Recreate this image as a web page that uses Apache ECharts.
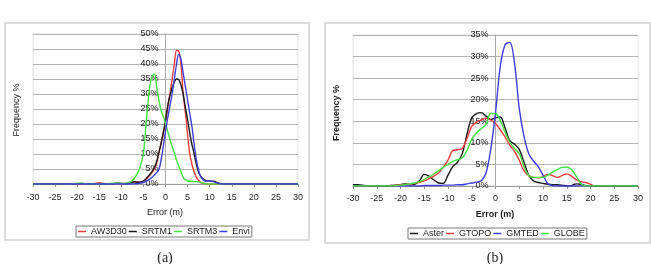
<!DOCTYPE html>
<html>
<head>
<meta charset="utf-8">
<script src="https://cdn.jsdelivr.net/npm/echarts@6/dist/echarts.min.js"></script>
<style>
  html, body { margin: 0; padding: 0; background: #fff; }
  #chart { width: 651px; height: 264px; }
</style>
</head>
<body>
<div id="chart"></div>
<script>
// panel (a): finer steps in the middle where the peaks are
var leftX = [-30,-29,-28,-27,-26,-25,-24,-23,-22,-21,-20,-19,-18,-17,-16,-15,-14,-13,-12,-11,-10,-9,
  -8,-7.5,-7,-6.5,-6,-5.5,-5,-4.5,-4,-3.5,-3,-2.5,-2,-1.5,-1,-0.5,0,0.5,1,1.5,2,2.5,3,3.5,4,4.5,5,5.5,6,6.5,7,7.5,8,
  9,10,11,12,13,14,15,16,17,18,19,20,21,22,23,24,25,26,27,28,29,30];

var aw3d30 = [0,0,0,0,0,0,0,0,0,0,0,0,0,0,0.2,0.4,0.2,0.1,0.1,0.1,0.1,0.2,
  0.4,0.7,0.8,0.7,0.6,0.7,1.0,1.5,2.2,3.0,4.0,5.0,7.0,10.5,13.5,17,21,25.5,30,35,40,44.5,44.3,40,30,24,16.5,10,6.5,4,2.2,1.2,0.5,
  0.1,0,0,0,0,0,0,0,0,0,0,0,0,0,0,0,0,0,0,0,0,0];
var srtm1 = [0,0,0,0,0,0,0,0,0,0,0.1,0.2,0.1,0,0,0,0,0,0.1,0.3,0.2,0.1,
  0.3,0.6,0.7,0.6,0.6,0.7,1.0,1.6,2.4,3.3,4.3,5.5,7.5,10.5,13.5,17,21,26,29.5,32,34,35,34.8,33,30,25.5,21.5,17,13,10,6.5,4,2.5,
  1.2,1,0.9,0.3,0,0,0,0,0,0,0,0,0,0,0,0,0,0,0,0,0,0];
var srtm3 = [0,0,0,0,0,0,0,0,0,0.1,0.3,0.3,0.1,0,0,0,0,0.1,0.2,0.3,0.2,0.3,
  0.6,1.2,2,3.2,4.7,7,10,18.3,26.5,33,35.8,36.7,32.5,28,24.5,22.5,20.3,17.5,15,12.5,10.5,8,6,4.2,2.2,1.4,1.0,0.9,0.9,0.8,0.8,0.7,0.5,
  0.1,0,0,0,0,0,0,0,0,0,0,0,0,0,0,0,0,0,0,0,0,0];
var envi = [0,0,0,0,0,0,0,0,0,0,0,0,0,0,0,0,0,0,0,0,0,0,
  0,0,0.1,0.1,0.2,0.3,0.5,0.8,1.2,1.7,2.3,3,3.8,4.8,8,12.5,17.5,22,26,30,35,40,43.3,41.5,37,32.5,28,23.5,19,13,8,4.5,2.5,
  1.0,1.0,0.7,0.2,0,0,0,0,0,0,0,0,0,0,0,0,0,0,0,0,0,0];

// panel (b)
var rightX = [-30,-29,-28,-27,-26,-25,-24,-23,-22,-21,-20,-19,-18,-17,-16,-15,-14,-13,-12,-11,
  -10,-9,-8,-7,-6,-5,-4,-3,-2,-1,0,1,2,3,4,5,6,7,8,9,10,11,12,13,14,15,16,17,18,19,20,
  21,22,23,24,25,26,27,28,29,30];

var aster = [0.3,0.3,0.2,0,0,0,0,0,0.1,0.2,
  0.3,0.5,0.3,0.4,1.2,2.7,2.3,1.4,0.7,0.6,
  2.5,4.5,5.5,7.5,12,15.8,16.8,17,16.2,15.4,
  15.8,16,13.5,10.5,9.7,8.5,5.5,2.5,1.2,0.8,
  0.6,0.4,0.3,0.3,0.2,0,0.1,0.5,0.4,0.1,
  0,0,0,0,0,0,0,0,0,0,0];
var gtopo = [0,0,0,0,0,0,0,0,0.1,0.2,
  0.3,0.3,0.4,0.6,0.9,1.2,1.7,2.3,3.0,4.3,
  6,8.2,8.4,8.7,11,13.8,14.8,15.3,15.7,15.3,
  14.5,13,11.4,9.5,8,6,3.5,2.4,2,1.9,
  2.2,2.7,2.4,2,2.4,2.8,2.3,1.4,1,0.8,
  0.4,0,0,0,0,0,0,0,0,0,0];
var gmted = [0,0,0,0,0,0,0,0,0,0,
  0,0,0,0,0,0.1,0.1,0.1,0.1,0.2,
  0.2,0.2,0.3,0.3,0.5,0.7,0.9,1.2,3,8.5,
  17,27.7,32.7,33.3,28.5,18,11.5,7.5,5.8,4.5,
  2.5,0.6,0.1,0,0,0,0,0,0,0,
  0,0,0,0,0,0,0,0,0,0,0];
var globe = [0,0,0,0,0,0,0,0,0,0.1,
  0.2,0.3,0.5,0.7,1.0,1.5,2.1,2.8,3.5,4.3,
  5,5.7,6.1,6.5,8.3,10.8,12.3,13.3,14.2,16.8,
  16.8,15.2,12.5,10.2,8.7,7.5,4.5,2.4,2,2,
  2,2.5,3.2,3.8,4.3,4.4,3.8,2.3,0.5,0,
  0,0,0,0,0,0,0,0,0,0,0];

var xTicks = { min: -30, max: 30, interval: 5 };
var font = 'Liberation Sans, Arial, sans-serif';

function pairs(xs, ys) {
  return xs.map(function (x, i) { return [x, ys[i]]; });
}

function line(name, xs, ys, color, idx) {
  return {
    name: name, type: 'line', xAxisIndex: idx, yAxisIndex: idx,
    data: pairs(xs, ys), smooth: 0.35, symbol: 'none', color: color,
    lineStyle: { width: 1.4, color: color }, emphasis: { disabled: true }
  };
}

function xAx(idx, margin) {
  return {
    gridIndex: idx, type: 'value', min: xTicks.min, max: xTicks.max, interval: xTicks.interval,
    axisLine: { lineStyle: { color: '#999' } },
    axisTick: { length: 3, lineStyle: { color: '#999' } },
    axisLabel: { margin: margin, fontSize: 9, color: '#222', fontFamily: font },
    splitLine: { show: false }
  };
}

// the y axis sits on x = 0, i.e. in the middle of the plot
function yAx(idx, max, halfWidth) {
  return {
    gridIndex: idx, type: 'value', min: 0, max: max, interval: 5,
    offset: -halfWidth,
    axisLine: { show: true, onZero: false, lineStyle: { color: '#aaa' } },
    axisTick: { show: true, length: 3, lineStyle: { color: '#aaa' } },
    axisLabel: { formatter: '{value}%', margin: 7, fontSize: 9, color: '#222', fontFamily: font },
    splitLine: { lineStyle: { color: '#b4b4b4' } }
  };
}

function legend(names, left, top) {
  return {
    data: names, left: left, top: top, orient: 'horizontal',
    icon: 'rect', itemWidth: 8, itemHeight: 1.5, itemGap: 2, padding: [1, 2],
    borderColor: '#777', borderWidth: 1,
    textStyle: { fontSize: 9, color: '#222', fontFamily: font }
  };
}

var chart = echarts.init(document.getElementById('chart'), null, { renderer: 'canvas' });

chart.setOption({
  animation: false,
  backgroundColor: '#fff',
  grid: [
    { left: 33, top: 34, width: 265, height: 150, show: true, borderColor: '#e2e2e2', borderWidth: 1 },
    { left: 353, top: 35, width: 285, height: 151, show: true, borderColor: '#e2e2e2', borderWidth: 1 }
  ],
  xAxis: [xAx(0, 9), xAx(1, 8)],
  yAxis: [yAx(0, 50, 132.5), yAx(1, 35, 142.5)],
  legend: [
    legend(['AW3D30', 'SRTM1', 'SRTM3', 'Envi'], 76, 226),
    legend(['Aster', 'GTOPO', 'GMTED', 'GLOBE'], 408, 228)
  ],
  series: [
    line('AW3D30', leftX, aw3d30, '#f03c3c', 0),
    line('SRTM1', leftX, srtm1, '#1a1a1a', 0),
    line('SRTM3', leftX, srtm3, '#44e044', 0),
    line('Envi', leftX, envi, '#3c3cdc', 0),
    line('Aster', rightX, aster, '#1a1a1a', 1),
    line('GTOPO', rightX, gtopo, '#f03c3c', 1),
    line('GMTED', rightX, gmted, '#3c3cdc', 1),
    line('GLOBE', rightX, globe, '#44e044', 1)
  ],
  graphic: [
    { type: 'rect', silent: true, z: -1, shape: { x: 5, y: 23, width: 304, height: 217 },
      style: { fill: null, stroke: '#cfcfcf', lineWidth: 1.5 } },
    { type: 'rect', silent: true, z: -1, shape: { x: 325, y: 23, width: 325, height: 220 },
      style: { fill: null, stroke: '#cfcfcf', lineWidth: 1.5 } },
    { type: 'text', x: 165, y: 213, style: { text: 'Error (m)', font: '9px ' + font, fill: '#222', align: 'center', verticalAlign: 'middle' } },
    { type: 'text', x: 495, y: 215, style: { text: 'Error (m)', font: 'bold 9px ' + font, fill: '#222', align: 'center', verticalAlign: 'middle' } },
    { type: 'text', x: 17, y: 110, rotation: Math.PI / 2, style: { text: 'Frequency %', font: '9px ' + font, fill: '#222', align: 'center', verticalAlign: 'middle' } },
    { type: 'text', x: 337, y: 113, rotation: Math.PI / 2, style: { text: 'Frequency %', font: 'bold 9px ' + font, fill: '#222', align: 'center', verticalAlign: 'middle' } },
    { type: 'text', x: 165, y: 251, style: { text: '(a)', font: '14px Liberation Serif, serif', fill: '#222', align: 'center', verticalAlign: 'top' } },
    { type: 'text', x: 495, y: 251, style: { text: '(b)', font: '14px Liberation Serif, serif', fill: '#222', align: 'center', verticalAlign: 'top' } }
  ]
});
</script>
</body>
</html>
